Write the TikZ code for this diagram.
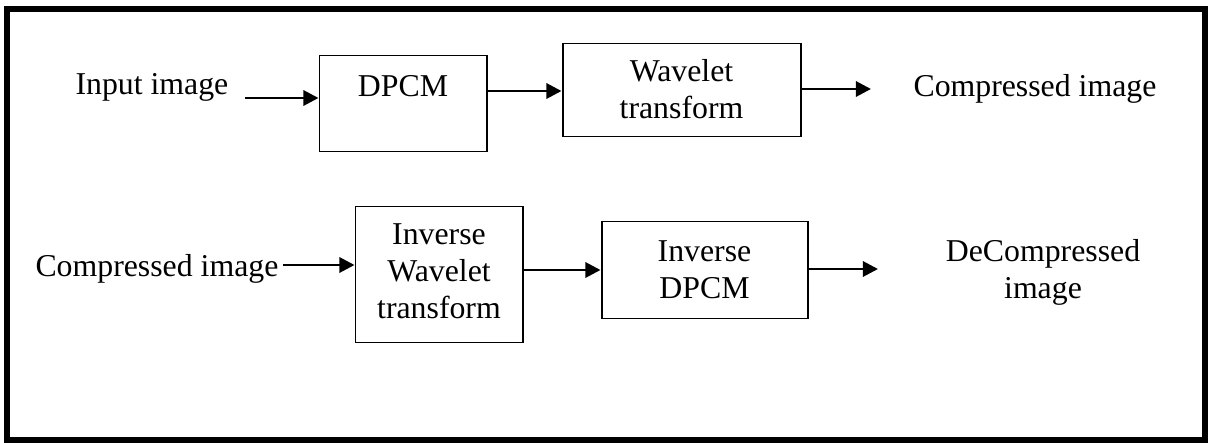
\documentclass[tikz,border=0pt]{standalone}
\usepackage{fontspec}
\setmainfont{Liberation Serif}
\usetikzlibrary{arrows.meta}
\begin{document}
\begin{tikzpicture}[x=0.3774pt,y=-0.3774pt,
  blk/.style={draw,line width=0.75pt,inner sep=0pt},
  txt/.style={inner sep=0pt,font=\fontsize{12}{13.8}\selectfont},
  mtxt/.style={txt,align=center,text width=100pt,anchor=base},
  arr/.style={line width=1.1pt,-{Triangle[length=5.7pt,width=5.7pt]}},
  frame/.style={line width=2.26pt}]
\useasboundingbox (0,0) rectangle (1208,443);
\draw[frame] (7,9) rectangle (1204.5,440);
% top row
\node[txt,anchor=base west] (inp) at (75,95) {Input image};
\node[blk,minimum width={167*0.3774pt},minimum height={96*0.3774pt}] (dpcm) at (403,103.5) {};
\node[txt,anchor=base] (dpcmT) at (403,97) {DPCM};
\node[blk,minimum width={238*0.3774pt},minimum height={93*0.3774pt}] (wav) at (681.5,90) {};
\node[mtxt] (wavT) at (681.5,82) {Wavelet\\transform};
\node[txt,anchor=base west] (cout) at (913,97) {Compressed image};
\coordinate (inS) at (245,98);
\coordinate (outE) at (871,89);
\draw[arr] (inS) -- (inS -| dpcm.west);
\draw[arr] (dpcm.east |- 0,91) -- (wav.west |- 0,91);
\draw[arr] (wav.east |- outE) -- (outE);
% bottom row
\node[txt,anchor=base west] (cin) at (35,277) {Compressed image};
\node[blk,minimum width={167*0.3774pt},minimum height={136*0.3774pt}] (iwav) at (439,274.5) {};
\node[mtxt] (iwavT) at (439,245) {Inverse\\Wavelet\\transform};
\node[blk,minimum width={206*0.3774pt},minimum height={97*0.3774pt}] (idpcm) at (704.5,270) {};
\node[mtxt] (idpcmT) at (704.5,262) {Inverse\\DPCM};
\node[mtxt] (dout) at (1043,262) {DeCompressed\\image};
\coordinate (cS) at (283,265);
\coordinate (dE) at (878,269);
\draw[arr] (cS) -- (cS -| iwav.west);
\draw[arr] (iwav.east |- 0,270) -- (idpcm.west |- 0,270);
\draw[arr] (idpcm.east |- dE) -- (dE);
\end{tikzpicture}
\end{document}
